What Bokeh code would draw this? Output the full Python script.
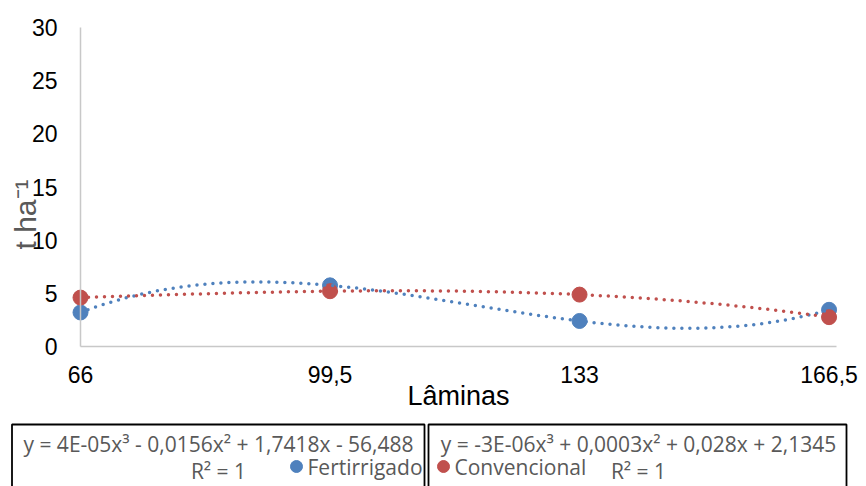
import numpy as np
from bokeh.plotting import figure
from bokeh.models import Range1d, FixedTicker, LinearAxis
from bokeh.core.properties import value
from bokeh.embed import file_html
from bokeh.resources import INLINE

# ---- data ----
laminas = [66, 99.5, 133, 166.5]
x_tick_labels = ["66", "99,5", "133", "166,5"]
fertirrigado = [3.2, 5.75, 2.4, 3.45]
convencional = [4.6, 5.2, 4.88, 2.76]
y_ticks = [0, 5, 10, 15, 20, 25, 30]
eq_fert = "y = 4E-05x³ - 0,0156x² + 1,7418x - 56,488"
eq_conv = "y = -3E-06x³ + 0,0003x² + 0,028x + 2,1345"
r2_text = "R² = 1"
series_names = ["Fertirrigado", "Convencional"]

BLUE = "#4F81BD"
RED = "#C0504D"
GRAY_TXT = "#595959"
AXIS = "#C8C8C8"
FONT = "Liberation Sans"
EQ_FONT = "Open Sans"
EQ_SIZE = "21px"

W, H = 866, 486
FL, FR, FT, FB = 80, 836, 27, 346   # plot-area edges on the canvas
XA, XB, YA, YB = 66, 167.5, 0, 30    # axis extents
SX = (FR - FL) / (XB - XA)
SY = (FB - FT) / (YB - YA)


def dx(px):
    return XA + (px - FL) / SX


def dy(py):
    return YA + (FB - py) / SY


p = figure(width=W, height=H, output_backend="svg", toolbar_location=None,
           x_range=Range1d(dx(0), dx(W)), y_range=Range1d(dy(H), dy(0)),
           x_axis_type=None, y_axis_type=None,
           min_border=0, min_border_left=0, min_border_right=0,
           min_border_top=0, min_border_bottom=0)
p.outline_line_color = None
p.grid.visible = False

# axes placed at the plot-area edges
xaxis = LinearAxis(fixed_location=YA, bounds=(XA, XB), ticker=FixedTicker(ticks=laminas),
                   major_label_overrides={k: v for k, v in zip(laminas, x_tick_labels)},
                   axis_label="Lâminas", axis_label_text_font=FONT, axis_label_text_font_size="27px",
                   axis_label_text_font_style="normal", axis_label_text_color="black",
                   axis_label_standoff=-5,
                   major_label_text_font=FONT, major_label_text_font_size="23px",
                   major_label_text_color="black", major_label_standoff=13,
                   major_tick_line_color=None, minor_tick_line_color=None,
                   axis_line_color=AXIS, axis_line_width=1.5)
yaxis = LinearAxis(fixed_location=XA, bounds=(YA, YB), ticker=FixedTicker(ticks=y_ticks),
                   major_label_text_font=FONT, major_label_text_font_size="23px",
                   major_label_text_color="black", major_label_standoff=17,
                   major_tick_line_color=None, minor_tick_line_color=None,
                   axis_line_color=AXIS, axis_line_width=1.5)
p.add_layout(xaxis, "below")
p.add_layout(yaxis, "left")

# trendlines (cubic through the four points, as in the source chart, R² = 1)
xx = np.linspace(laminas[0], laminas[-1], 300)
cf = np.polyfit(laminas, fertirrigado, 3)
cc = np.polyfit(laminas, convencional, 3)

p.scatter(laminas, fertirrigado, size=15, color=BLUE)
p.scatter(laminas, convencional, size=15, color=RED)
p.line(xx, np.polyval(cf, xx), line_color=BLUE, line_width=3.5, line_dash="0 8", line_cap="round")
p.line(xx, np.polyval(cc, xx), line_color=RED, line_width=3.5, line_dash="0 8", line_cap="round")

# y axis title
p.text(x=[dx(25)], y=[dy(214)], text=["t ha⁻¹"], angle=np.pi / 2,
       text_align="center", text_baseline="alphabetic",
       text_font=value(FONT), text_font_size="30px", text_color=GRAY_TXT)

# ---- trendline equation boxes and legend under the chart ----
box_l = [11.5, 428]
box_r = [424, 846]
p.quad(left=[dx(v) for v in box_l], right=[dx(v) for v in box_r],
       top=[dy(424)] * 2, bottom=[dy(520)] * 2,
       fill_color=None, line_color="black", line_width=1.8)

p.text(x=[dx(218), dx(638)], y=[dy(443)] * 2, text=[eq_fert, eq_conv],
       text_align="center", text_baseline="middle",
       text_font=value(EQ_FONT), text_font_size=EQ_SIZE, text_color=GRAY_TXT)
p.text(x=[dx(218), dx(638)], y=[dy(470)] * 2, text=[r2_text, r2_text],
       text_align="center", text_baseline="middle",
       text_font=value(EQ_FONT), text_font_size=EQ_SIZE, text_color=GRAY_TXT)
p.scatter(x=[dx(296), dx(443)], y=[dy(466)] * 2, size=12, color=[BLUE, RED])
p.text(x=[dx(307), dx(454)], y=[dy(466)] * 2, text=series_names,
       text_align="left", text_baseline="middle",
       text_font=value(EQ_FONT), text_font_size=EQ_SIZE, text_color=GRAY_TXT)

open("out.html", "w").write(file_html(p, INLINE))
